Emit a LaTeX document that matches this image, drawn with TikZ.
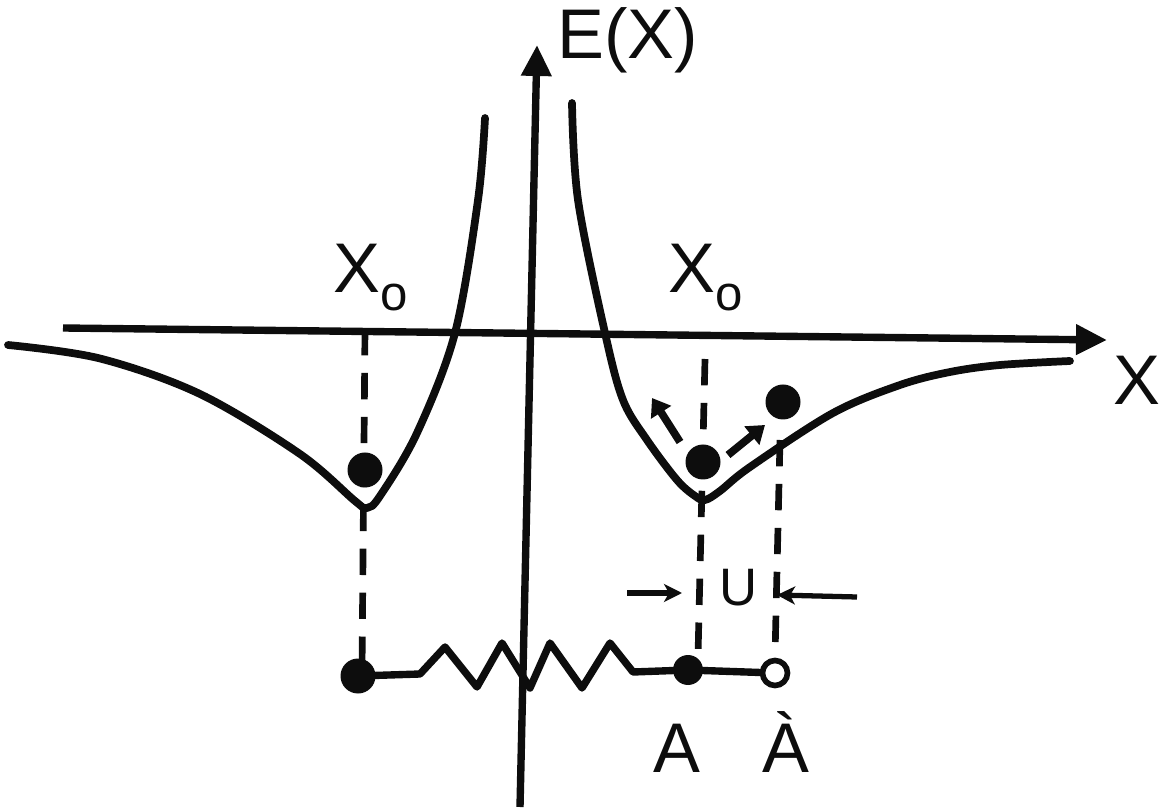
\documentclass[tikz,border=0pt]{standalone}
\usepackage{fontspec}
\setmainfont{Liberation Sans}
\usetikzlibrary{arrows.meta,calc}
\usepackage{tkz-euclide}
\definecolor{InkClr}{rgb}{0.05,0.05,0.05}
\tikzset{
  axisline/.style={line width=4.2pt,-{Triangle[length=0.62cm,width=0.58cm]}},
  wellcurve/.style={line width=4.4pt,line join=round,line cap=round},
  dropline/.style={line width=3.8pt,dash pattern=on 15pt off 10pt},
  springline/.style={line width=4.2pt,line join=round},
  kickarrow/.style={line width=4.4pt,-{Triangle[length=0.34cm,width=0.46cm]}},
  gaparrow/.style={line width=3pt,-{Stealth[length=0.36cm,width=0.36cm,inset=0.1cm]}},
  biglabel/.style={font=\fontsize{40}{40}\selectfont,inner sep=0pt},
}
\newcommand{\Xsub}{X\raisebox{-0.25em}{\fontsize{28}{28}\selectfont o}}

\begin{document}
\begin{tikzpicture}[color=InkClr]
\useasboundingbox (0,0) rectangle (23.24,16.22);

\tkzDefPoints{10.40/0.08/Ybot,10.74/15.32/Ytop,1.26/9.66/Xleft,22.14/9.42/Xright}
\tkzDefPoints{7.30/9.64/L1,7.24/2.80/L2,14.10/9.04/R1,13.96/3.10/R2,15.60/7.42/S1,15.50/3.10/S2}
\tkzDefPoints{7.30/6.82/BallL,14.06/6.98/BallR,15.66/8.18/BallS}
\tkzDefPoints{13.60/7.38/K1,13.04/8.26/K2,14.56/7.12/K3,15.30/7.72/K4}
\tkzDefPoints{7.16/2.70/M0,8.40/2.74/Z0,12.66/2.78/Z9,13.76/2.82/MA,15.50/2.76/MB}
\tkzDefPoints{12.54/4.36/U1,13.64/4.36/U2,17.14/4.28/U3,15.54/4.32/U4}

\draw[dropline] (L1) -- (L2);
\draw[dropline] (R1) -- (R2);
\draw[dropline] (S1) -- (S2);

\draw[axisline] (Ybot) -- (Ytop);
\draw[axisline] (Xleft) -- (Xright);

\draw[wellcurve] plot[smooth,tension=.55] coordinates{(0.16,9.32)(2.0,9.05)(4.0,8.34)(6.0,7.14)(7.1,6.2)(7.34,6.06)(7.6,6.3)(8.34,7.56)(9.10,9.56)(9.56,12.22)(9.70,13.86)};
\draw[wellcurve] plot[smooth,tension=.55] coordinates{(11.44,14.16)(11.56,12.22)(12.10,9.56)(12.46,8.22)(12.94,7.42)(13.54,6.62)(13.9,6.3)(14.10,6.22)(14.4,6.4)(15.0,6.88)(16.66,7.96)(18.0,8.52)(19.0,8.78)(20.0,8.92)(21.4,9.0)};

\fill (BallL) circle (0.35);
\fill (BallR) circle (0.35);
\fill (BallS) circle (0.35);
\draw[kickarrow] (K1) -- (K2);
\draw[kickarrow] (K3) -- (K4);

\draw[springline] (M0) -- (Z0) -- (8.90,3.28) -- (9.54,2.48) -- (10.04,3.36) -- (10.60,2.46)
  -- (11.00,3.36) -- (11.64,2.46) -- (12.20,3.36) -- (Z9) -- (MA) -- (MB);
\fill (M0) circle (0.35);
\fill (MA) circle (0.30);
\draw[line width=3.2pt,fill=white] (MB) circle (0.25);

\draw[gaparrow] (U1) -- (U2);
\draw[gaparrow] (U3) -- (U4);

\node[biglabel,anchor=west] (Elab) at (11.14,15.42) {E(X)};
\node[biglabel] (Xlab) at (22.74,8.62) {X};
\node[biglabel,anchor=base west] (XoL) at (6.66,10.36) {\Xsub};
\node[biglabel,anchor=base west] (XoR) at (13.36,10.36) {\Xsub};
\node[biglabel,anchor=base] (Alab) at (13.54,0.78) {A};
\node[biglabel,anchor=base] (Aplab) at (15.72,0.78) {À};
\node[biglabel,font=\fontsize{30}{30}\selectfont] (Ulab) at (14.78,4.46) {U};

\end{tikzpicture}
\end{document}
